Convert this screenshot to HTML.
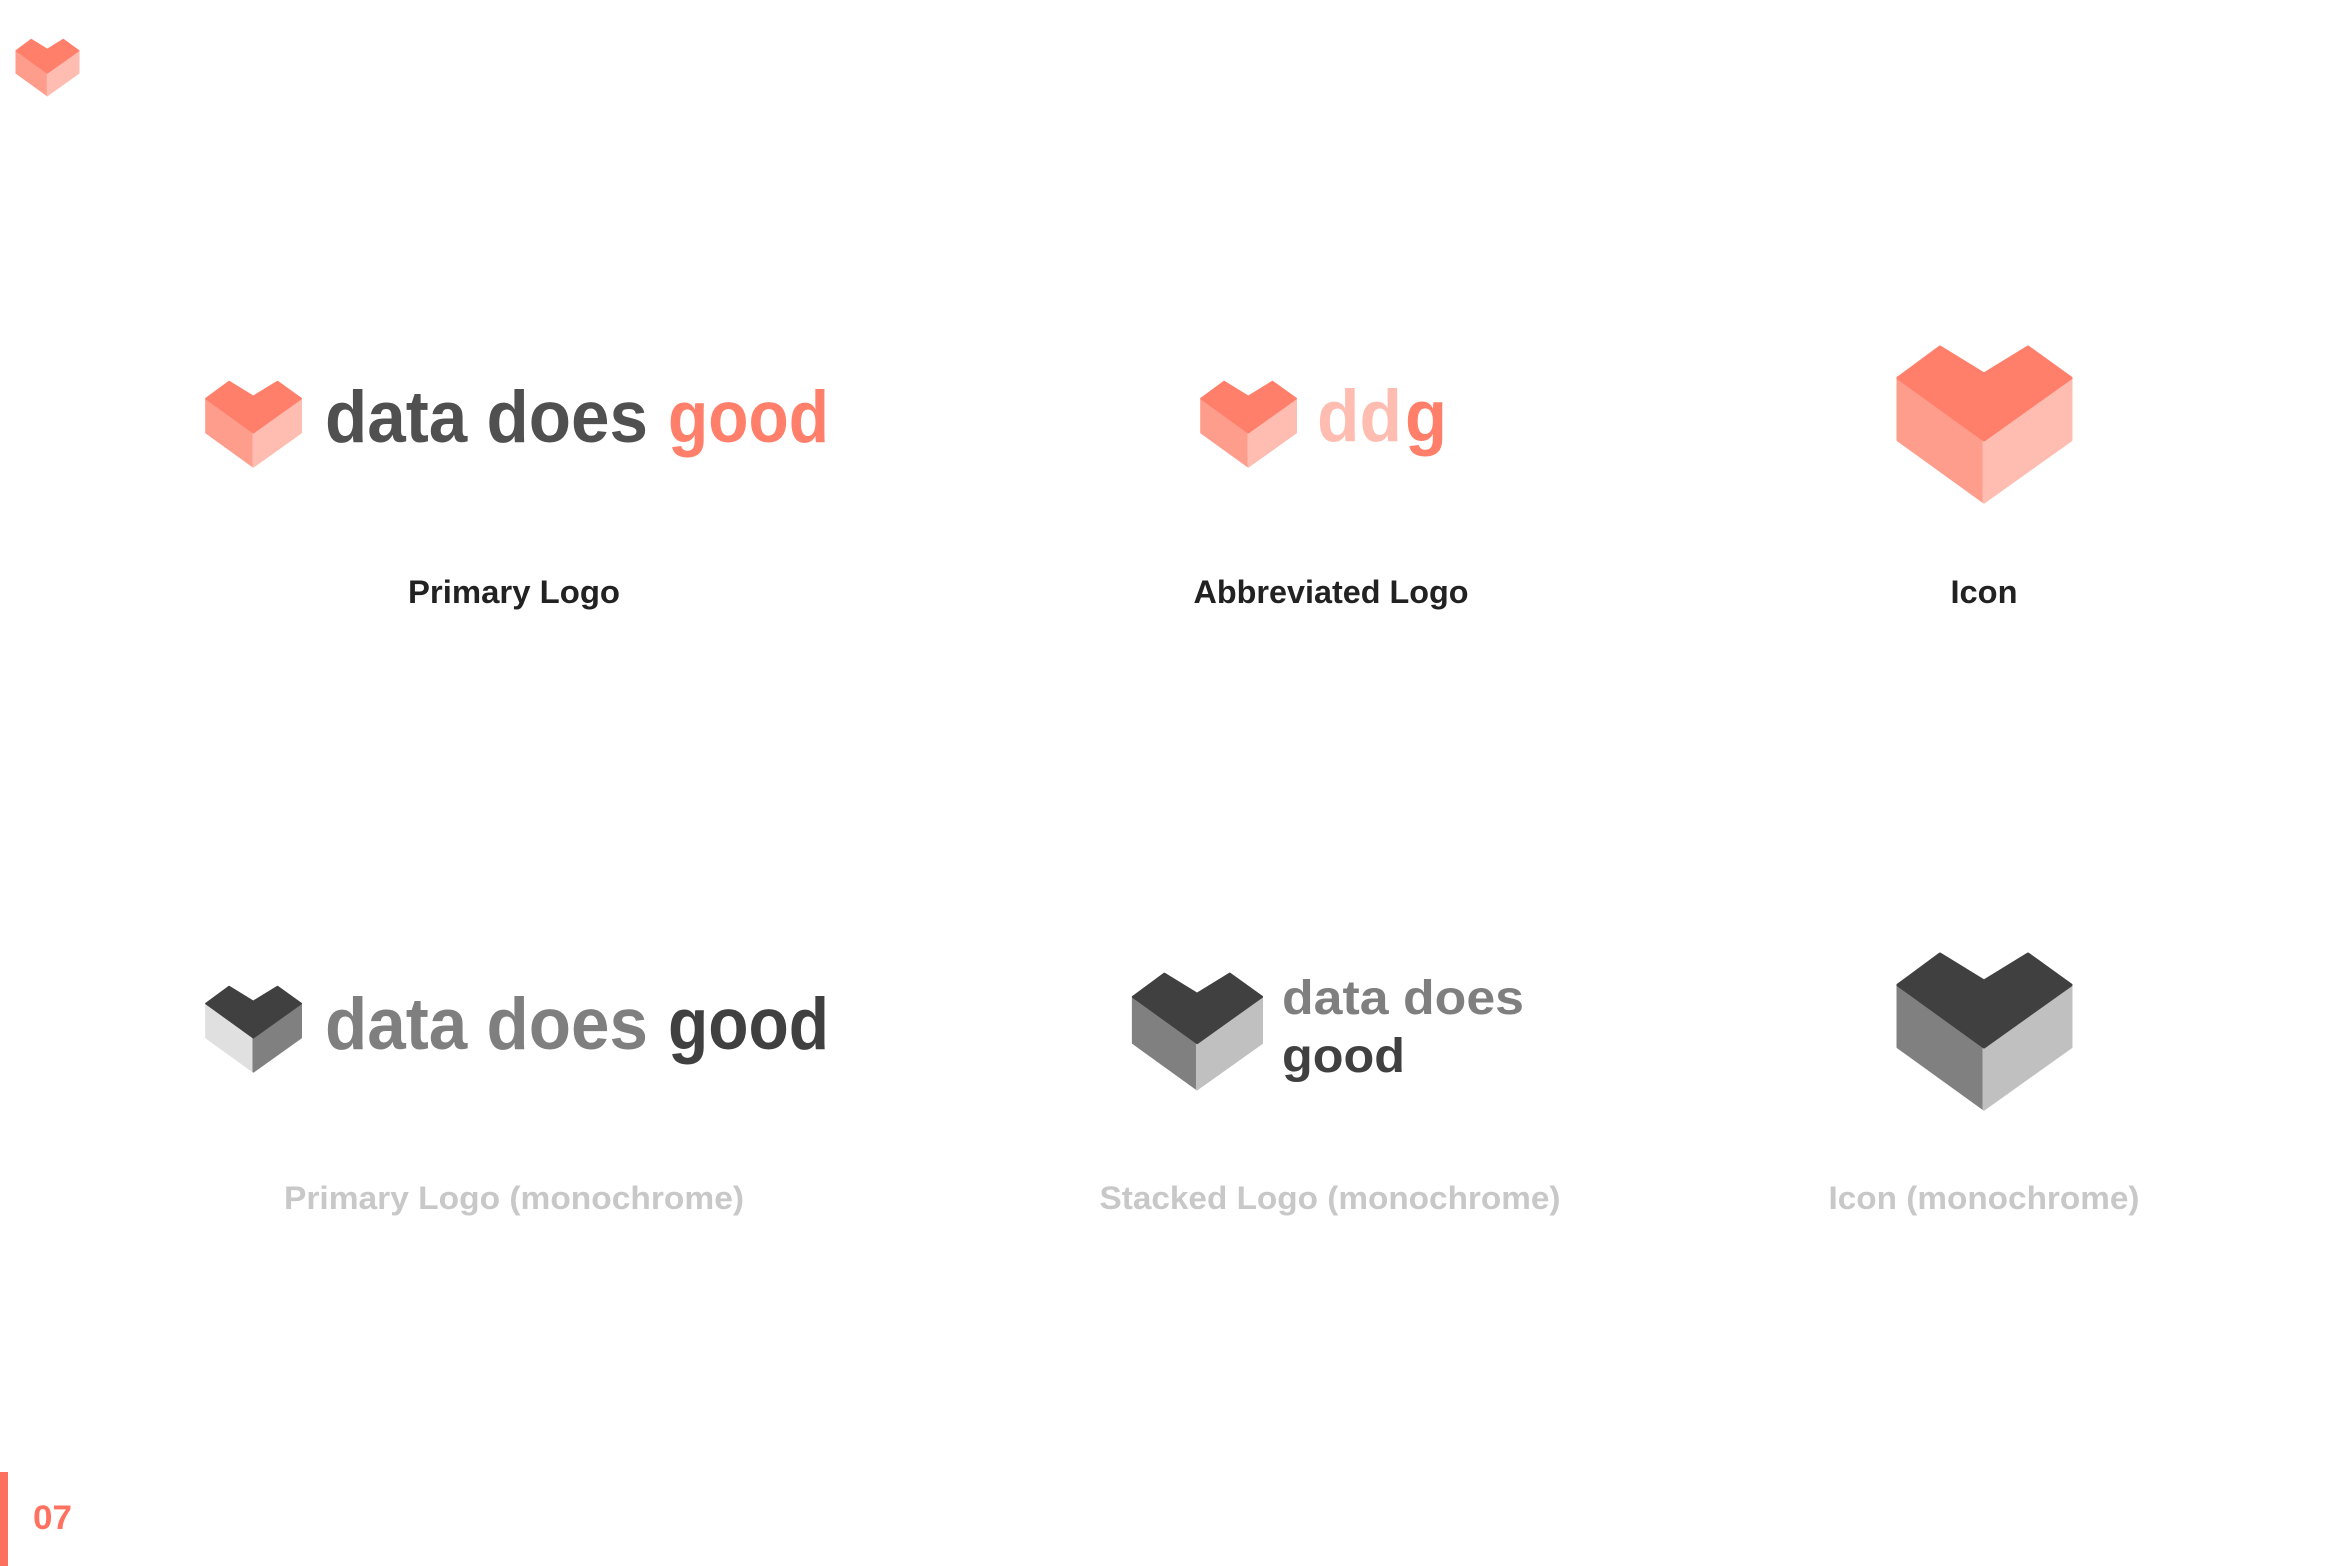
<!DOCTYPE html>
<html><head><meta charset="utf-8"><style>
html,body{margin:0;padding:0;background:#fff;}
svg{display:block;}
text{font-family:"Liberation Sans",Arial,sans-serif;font-weight:bold;}
</style></head><body>
<svg width="2348" height="1566" viewBox="0 0 2348 1566" xmlns="http://www.w3.org/2000/svg">
<defs>
<g id="top"><polygon points="0,32 42,1 86,28 130,1 173,32 86,94" stroke-linejoin="round" stroke-width="3"/></g>
<g id="left"><polygon points="0,32 86,94 86,156 0,94" stroke-linejoin="round" stroke-width="3"/></g>
<g id="right"><polygon points="86,94 173,32 173,94 86,156" stroke-linejoin="round" stroke-width="3"/></g>
</defs>

<g transform="translate(16,39) scale(0.364)">
  <use href="#left" fill="#FF9D8D" stroke="#FF9D8D"/><use href="#right" fill="#FFBDB2" stroke="#FFBDB2"/><use href="#top" fill="#FF7F6B" stroke="#FF7F6B"/>
</g>

<g transform="translate(206,381) scale(0.55)">
  <use href="#left" fill="#FF9D8D" stroke="#FF9D8D"/><use href="#right" fill="#FFBDB2" stroke="#FFBDB2"/><use href="#top" fill="#FF7F6B" stroke="#FF7F6B"/>
</g>
<text x="325" y="442" font-size="73" fill="#505050" textLength="323" lengthAdjust="spacingAndGlyphs">data does</text>
<text x="668" y="442" font-size="73" fill="#FF7F6B" textLength="161" lengthAdjust="spacingAndGlyphs">good</text>
<text x="514" y="603" font-size="32" fill="#222" text-anchor="middle" textLength="212" lengthAdjust="spacingAndGlyphs">Primary Logo</text>

<g transform="translate(1201,381) scale(0.55)">
  <use href="#left" fill="#FF9D8D" stroke="#FF9D8D"/><use href="#right" fill="#FFBDB2" stroke="#FFBDB2"/><use href="#top" fill="#FF7F6B" stroke="#FF7F6B"/>
</g>
<text x="1317" y="441" font-size="73" fill="#FFBDB2" textLength="85" lengthAdjust="spacingAndGlyphs">dd</text>
<text x="1405" y="441" font-size="73" fill="#FF7F6B" textLength="42" lengthAdjust="spacingAndGlyphs">g</text>
<text x="1331" y="603" font-size="32" fill="#222" text-anchor="middle" textLength="275" lengthAdjust="spacingAndGlyphs">Abbreviated Logo</text>

<g transform="translate(1898,346)">
  <use href="#left" fill="#FF9D8D" stroke="#FF9D8D"/><use href="#right" fill="#FFBDB2" stroke="#FFBDB2"/><use href="#top" fill="#FF7F6B" stroke="#FF7F6B"/>
</g>
<text x="1984" y="603" font-size="32" fill="#222" text-anchor="middle" textLength="67" lengthAdjust="spacingAndGlyphs">Icon</text>

<g transform="translate(206,986) scale(0.55)">
  <use href="#left" fill="#E0E0E0" stroke="#E0E0E0"/><use href="#right" fill="#808080" stroke="#808080"/><use href="#top" fill="#404040" stroke="#404040"/>
</g>
<text x="325" y="1049" font-size="73" fill="#7F7F7F" textLength="323" lengthAdjust="spacingAndGlyphs">data does</text>
<text x="668" y="1049" font-size="73" fill="#404040" textLength="161" lengthAdjust="spacingAndGlyphs">good</text>
<text x="514" y="1209" font-size="32" fill="#C8C8C8" text-anchor="middle" textLength="460" lengthAdjust="spacingAndGlyphs">Primary Logo (monochrome)</text>

<g transform="translate(1133,973) scale(0.745)">
  <use href="#left" fill="#808080" stroke="#808080"/><use href="#right" fill="#C0C0C0" stroke="#C0C0C0"/><use href="#top" fill="#404040" stroke="#404040"/>
</g>
<text x="1282" y="1014" font-size="48" fill="#7F7F7F" textLength="242" lengthAdjust="spacingAndGlyphs">data does</text>
<text x="1282" y="1072" font-size="48" fill="#404040" textLength="123" lengthAdjust="spacingAndGlyphs">good</text>
<text x="1330" y="1209" font-size="32" fill="#C8C8C8" text-anchor="middle" textLength="461" lengthAdjust="spacingAndGlyphs">Stacked Logo (monochrome)</text>

<g transform="translate(1898,953)">
  <use href="#left" fill="#808080" stroke="#808080"/><use href="#right" fill="#C0C0C0" stroke="#C0C0C0"/><use href="#top" fill="#404040" stroke="#404040"/>
</g>
<text x="1984" y="1209" font-size="32" fill="#C8C8C8" text-anchor="middle" textLength="311" lengthAdjust="spacingAndGlyphs">Icon (monochrome)</text>

<rect x="0" y="1472" width="8" height="94" fill="#FF6F5E"/>
<text x="33" y="1529" font-size="34" fill="#FF7262" textLength="39" lengthAdjust="spacingAndGlyphs">07</text>
</svg>
</body></html>
